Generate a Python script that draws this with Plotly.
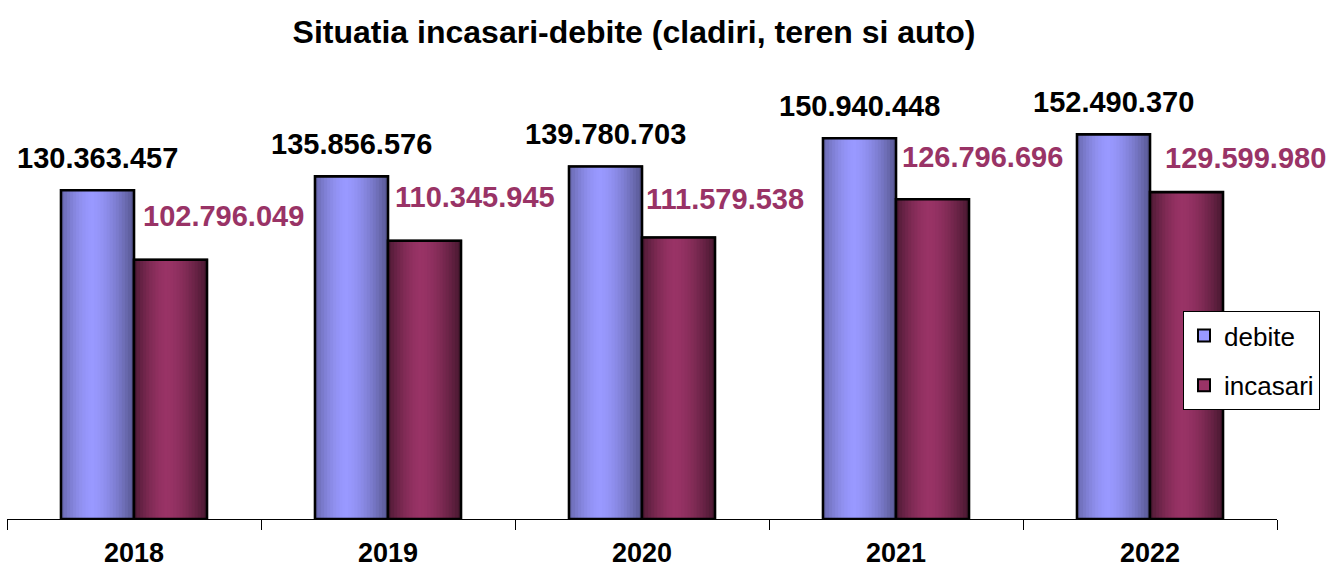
import plotly.graph_objects as go

# ---- data ----
years = ["2018", "2019", "2020", "2021", "2022"]
debite = [130363457, 135856576, 139780703, 150940448, 152490370]
incasari = [102796049, 110345945, 111579538, 126796696, 129599980]
debite_labels = ["130.363.457", "135.856.576", "139.780.703", "150.940.448", "152.490.370"]
incasari_labels = ["102.796.049", "110.345.945", "111.579.538", "126.796.696", "129.599.980"]

# ---- style / placement ----
FONT = "Liberation Sans, Arial, sans-serif"
W, H = 1331, 569
ML, MR, MT, MB = 7, 54, 65, 50
cat_px = (W - ML - MR) / len(years)
bw_px = 73.0
bw = bw_px / cat_px
inc_dx = [53, 50.5, 46.5, 50, 58.5]
inc_dy = [44, 43.6, 38.5, 42.5, 34.5]
deb_dy = 32

blue = (153, 153, 255)
maroon = (153, 51, 102)
N = 24


def shade(base, t, peak, lmin, rmin):
    if t <= peak:
        u = (peak - t) / peak
        f = 1 - (1 - lmin) * u ** 1.6
    else:
        u = (t - peak) / (1 - peak)
        f = 1 - (1 - rmin) * u ** 1.6
    return "rgb(%d,%d,%d)" % tuple(max(0, min(255, round(c * f))) for c in base)


fig = go.Figure()


def add_series(values, name, base, offset, peak, lmin, rmin):
    # base bar (also the legend entry)
    fig.add_trace(go.Bar(
        x=years, y=values, offset=offset, width=bw, name=name, legendgroup=name,
        marker=dict(color="rgb(%d,%d,%d)" % base, line=dict(color="black", width=2)),
        showlegend=True, hoverinfo="skip"))
    step = bw / N
    for i in range(N):
        t = (i + 0.5) / N
        fig.add_trace(go.Bar(
            x=years, y=values, offset=offset + i * step, width=bw - i * step,
            marker=dict(color=shade(base, t, peak, lmin, rmin), line=dict(width=0)),
            showlegend=False, hoverinfo="skip", legendgroup=name))
    fig.add_trace(go.Bar(
        x=years, y=values, offset=offset, width=bw,
        marker=dict(color="rgba(0,0,0,0)", line=dict(color="black", width=2.6)),
        showlegend=False, hoverinfo="skip", legendgroup=name))


add_series(debite, "debite", blue, -bw, 0.42, 0.68, 0.56)
add_series(incasari, "incasari", maroon, 0.0, 0.45, 0.50, 0.45)

annotations = []
for i, y in enumerate(years):
    annotations.append(dict(x=i, y=debite[i], xref="x", yref="y", text="<b>%s</b>" % debite_labels[i],
                            showarrow=False, xanchor="center", yanchor="middle",
                            xshift=-bw_px / 2, yshift=deb_dy,
                            font=dict(family=FONT, size=29, color="black")))
    annotations.append(dict(x=i, y=incasari[i], xref="x", yref="y", text="<b>%s</b>" % incasari_labels[i],
                            showarrow=False, xanchor="center", yanchor="middle",
                            xshift=bw_px / 2 + inc_dx[i], yshift=inc_dy[i],
                            font=dict(family=FONT, size=29, color="#993366")))

fig.update_layout(
    width=W, height=H,
    margin=dict(l=ML, r=MR, t=MT, b=MB, autoexpand=False),
    paper_bgcolor="white", plot_bgcolor="white",
    barmode="overlay",
    hovermode=False,
    title=dict(text="<b>Situatia incasari-debite (cladiri, teren si auto)</b>",
               x=634 / W, xanchor="center", y=1 - 32 / H, yanchor="middle",
               font=dict(family=FONT, size=32, color="black")),
    xaxis=dict(type="category", range=[-0.5, 4.5], showline=True, linecolor="black", linewidth=1,
               ticks="outside", ticklen=10, tickcolor="black", tickwidth=1, tickson="boundaries",
               showgrid=False, zeroline=False, ticklabelstandoff=10,
               tickvals=years, ticktext=["<b>%s</b>" % y for y in years],
               tickfont=dict(family=FONT, size=27, color="black")),
    yaxis=dict(visible=False, range=[0, 180e6], showgrid=False, zeroline=False),
    legend=dict(x=(1183 - ML) / (W - ML - MR), y=(H - MB - 311) / (H - MT - MB),
                xanchor="left", yanchor="top", bgcolor="white", bordercolor="black", borderwidth=1,
                font=dict(family=FONT, size=26, color="black"), tracegroupgap=13),
    annotations=annotations,
    showlegend=True,
)

fig.write_html("out.html", config={"displayModeBar": False},
               post_script="document.body.style.margin='0';")
